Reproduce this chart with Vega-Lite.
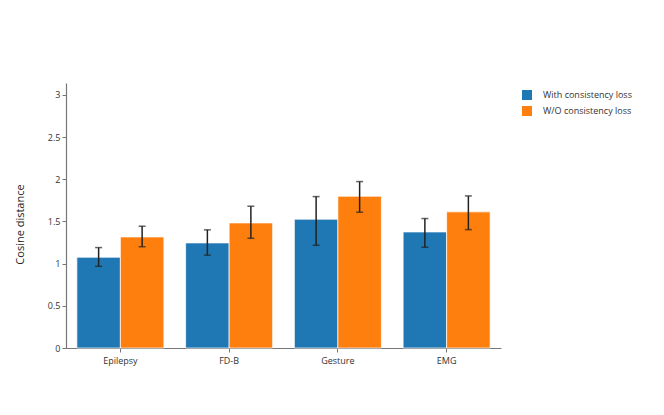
{
  "$schema": "https://vega.github.io/schema/vega-lite/v6.json",
  "autosize": {"type": "none"},
  "width": 435,
  "height": 265,
  "padding": {"left": 66, "top": 83, "right": 163, "bottom": 67},
  "background": "white",
  "config": {
    "view": {"stroke": null},
    "font": "Open Sans",
    "axis": {
      "domainColor": "#777777",
      "domainWidth": 1.2,
      "tickColor": "#777777",
      "tickSize": 4,
      "labelColor": "#333333",
      "labelFont": "Open Sans",
      "labelFontSize": 9,
      "titleFont": "Open Sans",
      "titleFontSize": 11,
      "titleFontWeight": "normal",
      "titleColor": "#222222",
      "grid": false
    }
  },
  "data": {
    "values": [
      {"dataset": "Epilepsy", "method": "With consistency loss", "value": 1.075, "lo": 0.968, "hi": 1.19},
      {"dataset": "Epilepsy", "method": "W/O consistency loss", "value": 1.316, "lo": 1.20, "hi": 1.443},
      {"dataset": "FD-B", "method": "With consistency loss", "value": 1.245, "lo": 1.10, "hi": 1.40},
      {"dataset": "FD-B", "method": "W/O consistency loss", "value": 1.482, "lo": 1.30, "hi": 1.68},
      {"dataset": "Gesture", "method": "With consistency loss", "value": 1.526, "lo": 1.217, "hi": 1.794},
      {"dataset": "Gesture", "method": "W/O consistency loss", "value": 1.798, "lo": 1.609, "hi": 1.972},
      {"dataset": "EMG", "method": "With consistency loss", "value": 1.375, "lo": 1.194, "hi": 1.534},
      {"dataset": "EMG", "method": "W/O consistency loss", "value": 1.613, "lo": 1.403, "hi": 1.802}
    ]
  },
  "encoding": {
    "x": {
      "field": "dataset",
      "type": "nominal",
      "sort": ["Epilepsy", "FD-B", "Gesture", "EMG"],
      "scale": {"paddingInner": 0.2, "paddingOuter": 0.1},
      "axis": {"title": null, "labelAngle": 0, "labelPadding": 4}
    },
    "xOffset": {
      "field": "method",
      "type": "nominal",
      "sort": ["With consistency loss", "W/O consistency loss"],
      "scale": {"paddingInner": 0, "paddingOuter": 0}
    }
  },
  "layer": [
    {
      "mark": {"type": "bar", "stroke": "#ffffff", "strokeOpacity": 0.7, "strokeWidth": 1},
      "encoding": {
        "y": {
          "field": "value",
          "type": "quantitative",
          "scale": {"domain": [0, 3.14], "nice": false},
          "axis": {
            "title": "Cosine distance",
            "values": [0, 0.5, 1, 1.5, 2, 2.5, 3],
            "format": "~g",
            "titleX": -46,
            "titleY": 141,
            "titleAlign": "center",
            "titleBaseline": "middle",
            "titleAngle": -90
          }
        },
        "color": {
          "field": "method",
          "type": "nominal",
          "sort": ["With consistency loss", "W/O consistency loss"],
          "scale": {"range": ["#1f77b4", "#ff7f0e"]},
          "legend": {
            "title": null,
            "orient": "none",
            "legendX": 456,
            "legendY": 7,
            "symbolType": "square",
            "symbolSize": 100,
            "symbolStrokeWidth": 0,
            "labelFont": "Open Sans",
            "labelFontSize": 9,
            "labelColor": "#333333",
            "labelOffset": 11,
            "rowPadding": 6
          }
        }
      }
    },
    {
      "mark": {"type": "rule", "color": "#222222", "strokeWidth": 1.5},
      "encoding": {
        "y": {"field": "lo", "type": "quantitative"},
        "y2": {"field": "hi"}
      }
    },
    {
      "mark": {"type": "tick", "color": "#222222", "size": 7, "thickness": 1.5},
      "encoding": {
        "y": {"field": "lo", "type": "quantitative"}
      }
    },
    {
      "mark": {"type": "tick", "color": "#222222", "size": 7, "thickness": 1.5},
      "encoding": {
        "y": {"field": "hi", "type": "quantitative"}
      }
    }
  ]
}
